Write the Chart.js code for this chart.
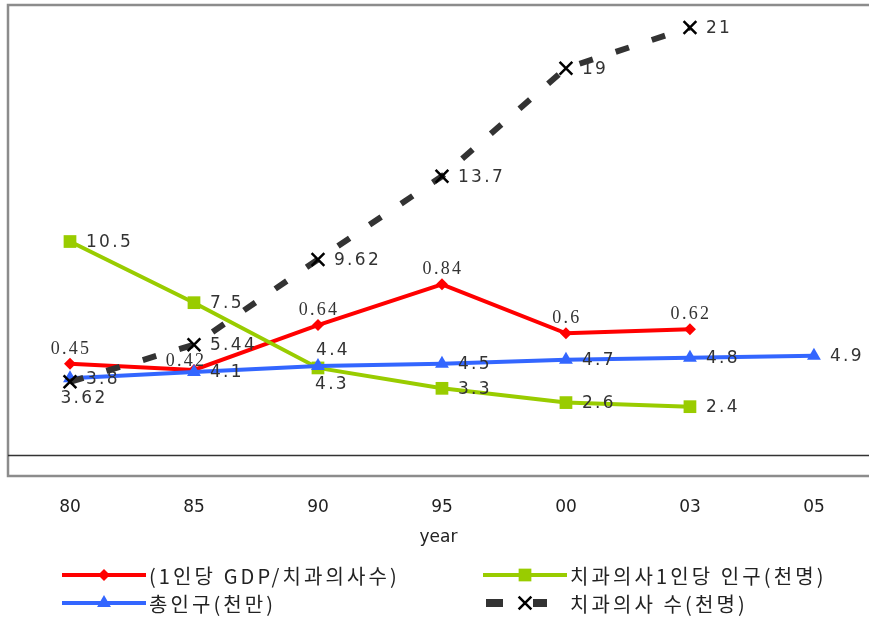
<!DOCTYPE html>
<html>
<head>
<meta charset="utf-8">
<script src="https://cdn.jsdelivr.net/npm/chart.js@4/dist/chart.umd.min.js"></script>
<style>
  html, body { margin: 0; padding: 0; background: #fff; }
  canvas { display: block; }
</style>
</head>
<body>
<canvas id="dentistChart" width="869" height="618"></canvas>
<script>
const years = ['80', '85', '90', '95', '00', '03', '05'];
const gdpPerDentist = [0.45, 0.42, 0.64, 0.84, 0.6, 0.62];
const peoplePerDentist = [10.5, 7.5, 4.3, 3.3, 2.6, 2.4];
const population = [3.8, 4.1, 4.4, 4.5, 4.7, 4.8, 4.9];
const dentists = [3.62, 5.44, 9.62, 13.7, 19, 21];

const seriesNames = ['(1인당 GDP/치과의사수)', '치과의사1인당 인구(천명)', '총인구(천만)', '치과의사 수(천명)'];

// where each value label sits next to its point
const gdpLabelPos = ['above', 'aboveLeft', 'above', 'above', 'above', 'above'];
const peopleLabelPos = ['right', 'right', 'below', 'right', 'right', 'right'];
const popLabelPos = ['right', 'right', 'aboveRight', 'right', 'right', 'right', 'right'];
const dentistLabelPos = ['below', 'right', 'right', 'right', 'right', 'right'];

function toPoints(arr) {
  return arr.map((v, i) => ({x: i, y: v}));
}

const placements = {
  right: {dx: 16, dy: 1, align: 'left'},
  above: {dx: 1, dy: -15, align: 'center'},
  aboveRight: {dx: 15, dy: -15, align: 'center'},
  aboveLeft: {dx: -8, dy: -9, align: 'center'},
  below: {dx: 14, dy: 17, align: 'center'}
};

const sansLabel = '17px "DejaVu Sans"';
const serifLabel = '18px "Liberation Serif"';

const valueLabels = {
  id: 'valueLabels',
  afterDatasetsDraw(chart) {
    const ctx = chart.ctx;
    chart.data.datasets.forEach((ds, i) => {
      const meta = chart.getDatasetMeta(i);
      ctx.save();
      ctx.font = ds.labelFont;
      ctx.letterSpacing = '2.3px';
      ctx.fillStyle = '#333';
      ctx.textBaseline = 'middle';
      meta.data.forEach((pt, j) => {
        const p = placements[ds.labelPos[j]];
        ctx.textAlign = p.align;
        ctx.fillText(String(ds.data[j].y), pt.x + p.dx, pt.y + p.dy);
      });
      ctx.restore();
    });
  }
};

const frame = {
  id: 'frame',
  beforeDatasetsDraw(chart) {
    const ctx = chart.ctx;
    const a = chart.chartArea;
    const y0 = chart.scales.y.getPixelForValue(0);
    ctx.save();
    ctx.strokeStyle = '#8c8c8c';
    ctx.lineWidth = 2.5;
    ctx.beginPath();
    ctx.moveTo(chart.width, a.top);
    ctx.lineTo(a.left, a.top);
    ctx.lineTo(a.left, a.bottom);
    ctx.lineTo(chart.width, a.bottom);
    ctx.stroke();
    ctx.strokeStyle = '#333';
    ctx.lineWidth = 1.5;
    ctx.beginPath();
    ctx.moveTo(a.left, y0);
    ctx.lineTo(chart.width, y0);
    ctx.stroke();
    ctx.restore();
  }
};

// legend boxes: dataset index, left edge of the sample line, row centre
const legendItems = [
  {ds: 3, x: 62, y: 575},
  {ds: 2, x: 483, y: 575},
  {ds: 1, x: 62, y: 603},
  {ds: 0, x: 483, y: 603}
];

const bottomLegend = {
  id: 'bottomLegend',
  afterDraw(chart) {
    const ctx = chart.ctx;
    legendItems.forEach(item => {
      const ds = chart.data.datasets[item.ds];
      const dashed = !!ds.borderDash;
      ctx.save();
      ctx.strokeStyle = ds.borderColor;
      ctx.lineWidth = dashed ? 8 : 4;
      ctx.setLineDash(dashed ? [17, 30] : []);
      ctx.beginPath();
      ctx.moveTo(item.x + (dashed ? 3 : 0), item.y);
      ctx.lineTo(item.x + (dashed ? 64 : 84), item.y);
      ctx.stroke();
      ctx.setLineDash([]);
      ctx.fillStyle = ds.pointBackgroundColor;
      ctx.strokeStyle = ds.pointBorderColor;
      ctx.lineWidth = ds.pointBorderWidth;
      Chart.helpers.drawPoint(ctx, {
        pointStyle: ds.pointStyle,
        radius: ds.pointRadius,
        borderWidth: ds.pointBorderWidth,
        rotation: 0
      }, item.x + 42, item.y);
      ctx.font = '20px "Noto Sans CJK KR"';
      ctx.letterSpacing = '3.1px';
      ctx.fillStyle = '#222';
      ctx.textBaseline = 'middle';
      ctx.fillText(ds.label, item.x + 87, item.y + 1);
      ctx.restore();
    });
  }
};

const axisFont = {family: '"DejaVu Sans", sans-serif', size: 17};

const chart = new Chart(document.getElementById('dentistChart'), {
  type: 'line',
  data: {
    datasets: [
      {
        label: seriesNames[3],
        data: toPoints(dentists),
        yAxisID: 'y',
        borderColor: '#333333',
        borderWidth: 6,
        borderDash: [14, 24],
        pointStyle: 'crossRot',
        pointRadius: 9,
        pointBorderWidth: 2.5,
        pointBorderColor: '#000',
        pointBackgroundColor: '#000',
        labelFont: sansLabel,
        labelPos: dentistLabelPos,
        order: 1
      },
      {
        label: seriesNames[2],
        data: toPoints(population),
        yAxisID: 'y',
        borderColor: '#3366ff',
        borderWidth: 4,
        pointStyle: 'triangle',
        pointRadius: 8,
        pointBorderWidth: 0,
        pointBorderColor: '#3366ff',
        pointBackgroundColor: '#3366ff',
        labelFont: sansLabel,
        labelPos: popLabelPos,
        order: 2
      },
      {
        label: seriesNames[1],
        data: toPoints(peoplePerDentist),
        yAxisID: 'y',
        borderColor: '#99cc00',
        borderWidth: 4,
        pointStyle: 'rect',
        pointRadius: 9,
        pointBorderWidth: 0,
        pointBorderColor: '#99cc00',
        pointBackgroundColor: '#99cc00',
        labelFont: sansLabel,
        labelPos: peopleLabelPos,
        order: 3
      },
      {
        label: seriesNames[0],
        data: toPoints(gdpPerDentist),
        yAxisID: 'y2',
        borderColor: '#ff0000',
        borderWidth: 4,
        pointStyle: 'rectRot',
        pointRadius: 6,
        pointBorderWidth: 0,
        pointBorderColor: '#ff0000',
        pointBackgroundColor: '#ff0000',
        labelFont: serifLabel,
        labelPos: gdpLabelPos,
        order: 4
      }
    ]
  },
  options: {
    responsive: false,
    animation: false,
    events: [],
    layout: {autoPadding: false, padding: {top: 5, left: 8, right: 0, bottom: 71.6}},
    plugins: {legend: {display: false}, tooltip: {enabled: false}},
    elements: {line: {tension: 0, borderCapStyle: 'butt'}, point: {hoverRadius: 0}},
    scales: {
      x: {
        type: 'linear',
        min: -0.5,
        max: 6.444,
        afterBuildTicks: (scale) => {
          scale.ticks = years.map((_, i) => ({value: i}));
        },
        ticks: {
          callback: (v) => years[v],
          padding: 21,
          autoSkip: false,
          maxRotation: 0,
          color: '#222',
          font: axisFont
        },
        grid: {display: false, drawTicks: false},
        border: {display: false},
        title: {
          display: true,
          text: 'year',
          color: '#222',
          padding: {top: -9, bottom: 0},
          font: Object.assign({}, axisFont, {lineHeight: 1})
        }
      },
      y: {display: false, min: -1, max: 22.1},
      y2: {display: false, min: -0.1, max: 2.21}
    }
  },
  plugins: [frame, valueLabels, bottomLegend]
});
</script>
</body>
</html>
